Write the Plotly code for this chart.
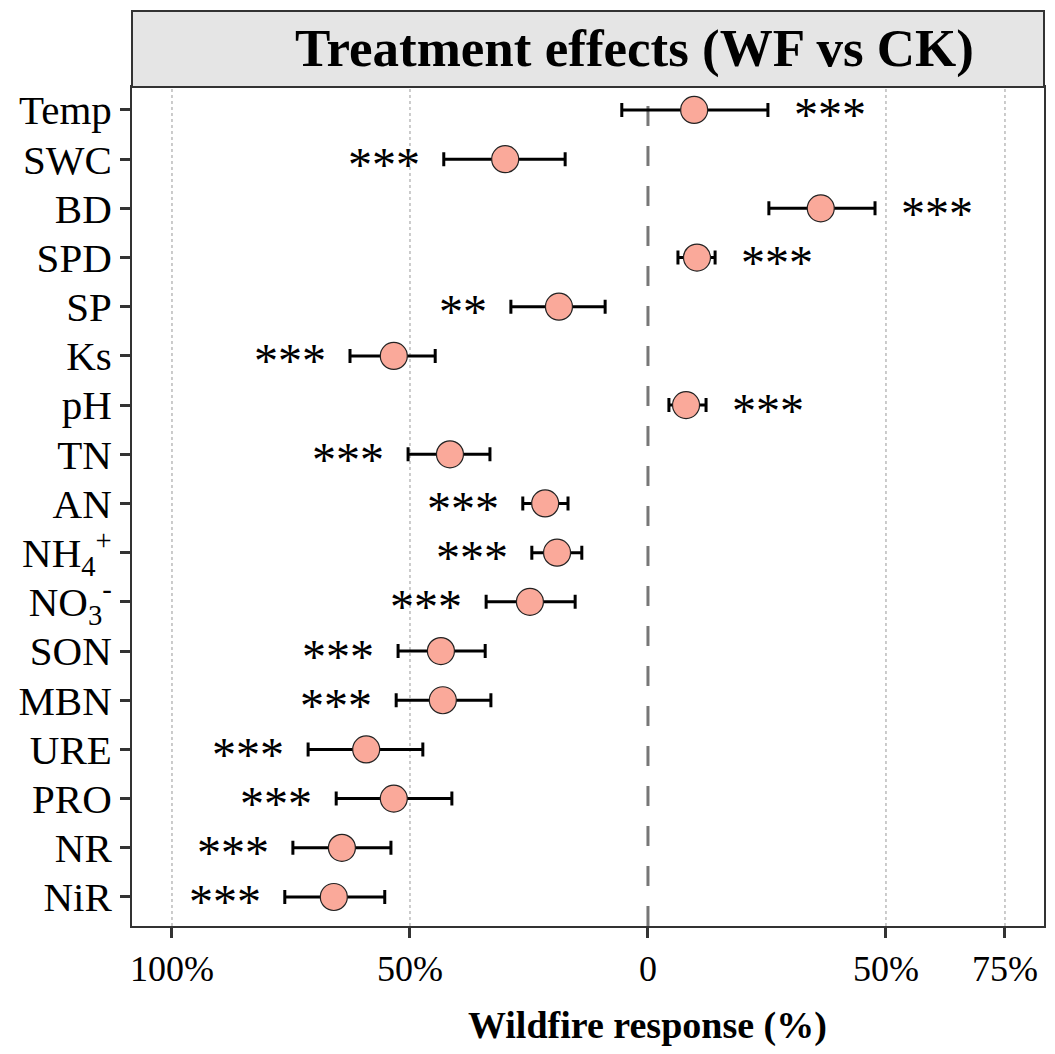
import plotly.graph_objects as go

# values (percent)
variables = ["Temp", "SWC", "BD", "SPD", "SP", "Ks", "pH", "TN", "AN",
             "NH<sub>4</sub><sup>+</sup>", "NO<sub>3</sub><sup>-</sup>",
             "SON", "MBN", "URE", "PRO", "NR", "NiR"]
effect = [9.7, -30.0, 36.3, 10.3, -18.7, -53.4, 8.0, -41.6, -21.6,
          -19.1, -24.8, -43.5, -43.1, -59.2, -53.4, -64.3, -66.0]
ci_low = [-5.5, -42.9, 25.4, 6.3, -28.8, -62.6, 4.4, -50.4, -26.3,
          -24.4, -34.0, -52.5, -52.9, -71.4, -65.5, -74.6, -76.3]
ci_high = [25.2, -17.4, 47.7, 14.1, -9.0, -44.7, 12.2, -33.2, -16.8,
           -13.9, -15.3, -34.2, -33.0, -47.3, -41.2, -54.0, -55.3]
signif = ["***", "***", "***", "***", "**", "***", "***", "***", "***",
          "***", "***", "***", "***", "***", "***", "***", "***"]

tick_vals = [-100, -50, 0, 50, 75]
tick_text = ["100%", "50%", "0", "50%", "75%"]

FONT = "Liberation Serif, Times New Roman, serif"

fig = go.Figure()

fig.add_trace(go.Scatter(
    x=effect, y=variables, mode="markers",
    marker=dict(size=27, color="#FAA99A", line=dict(color="#222222", width=1.2)),
    error_x=dict(type="data", symmetric=False,
                 array=[h - e for h, e in zip(ci_high, effect)],
                 arrayminus=[e - l for l, e in zip(ci_low, effect)],
                 color="black", thickness=3, width=7),
    showlegend=False,
))

# significance stars beside the interval ends
for v, e, lo, hi, s in zip(variables, effect, ci_low, ci_high, signif):
    right = e > 0
    fig.add_annotation(
        x=hi if right else lo, y=v, text=s, showarrow=False,
        xanchor="left" if right else "right", xshift=24 if right else -22,
        yshift=-5, font=dict(family=FONT, size=48, color="black"),
    )

# vertical guides
for gx in [-100, -50, 50, 75]:
    fig.add_vline(x=gx, line=dict(color="#BBBBBB", width=1.5, dash="dot"), layer="below")
fig.add_vline(x=0, line=dict(color="#777777", width=3, dash="20px,20px"), layer="below")

# facet strip
fig.add_shape(type="rect", xref="paper", yref="paper", x0=0, x1=1, y0=1, y1=1.0906,
              fillcolor="#E5E5E5", line=dict(color="#333333", width=2))
fig.add_annotation(xref="paper", yref="paper", x=0.5515, y=1.0453,
                   xanchor="center", yanchor="middle", showarrow=False,
                   text="<b>Treatment effects (WF vs CK)</b>",
                   font=dict(family=FONT, size=53, color="black"))

# x-axis title, centred under zero as in the reference
fig.add_annotation(xref="x", yref="paper", x=0, y=-0.118,
                   xanchor="center", yanchor="middle", showarrow=False,
                   text="<b>Wildfire response (%)</b>",
                   font=dict(family=FONT, size=38, color="black"))

fig.update_xaxes(
    range=[-108.4, 83.2], tickvals=tick_vals, ticktext=tick_text,
    showgrid=False, zeroline=False,
    ticks="outside", ticklen=10, tickwidth=3, tickcolor="#333333",
    tickfont=dict(family=FONT, size=36, color="black"),
    showline=True, linecolor="#333333", linewidth=2, mirror=True,
)
fig.update_yaxes(
    categoryorder="array", categoryarray=variables, range=[16.59, -0.467],
    showgrid=False, zeroline=False,
    ticks="outside", ticklen=10, tickwidth=3, tickcolor="#333333",
    tickfont=dict(family=FONT, size=41, color="black"),
    showline=True, linecolor="#333333", linewidth=2, mirror=True,
)

fig.update_layout(
    width=1055, height=1054,
    margin=dict(l=124, r=19, t=79, b=136, autoexpand=False),
    paper_bgcolor="white", plot_bgcolor="white",
    font=dict(family=FONT),
)

fig.write_html("out.html")
